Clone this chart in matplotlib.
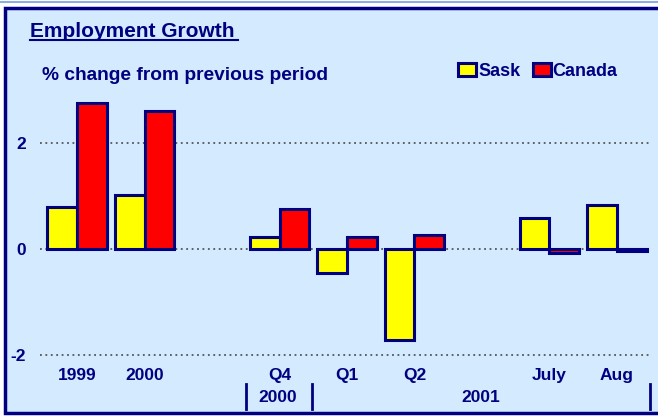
#! /usr/bin/env python3
# coding: utf-8

import matplotlib
matplotlib.use('Agg')
import matplotlib.pyplot as plt
from matplotlib.patches import Rectangle
from matplotlib.lines import Line2D
import numpy as np

NAVY = '#000080'
BG = '#D4EAFE'
YELLOW = '#FFFF00'
RED = '#FF0000'

periods = ['1999', '2000', 'Q4', 'Q1', 'Q2', 'July', 'Aug']
positions = [0, 1, 3, 4, 5, 7, 8]
sask = [0.79, 1.02, 0.23, -0.45, -1.72, 0.58, 0.83]
canada = [2.75, 2.60, 0.75, 0.23, 0.26, -0.08, -0.04]
groups = ['2000', '2001']

plt.rcParams['font.family'] = ['Liberation Sans', 'DejaVu Sans']
plt.rcParams['font.weight'] = 'bold'

W, H = 658, 416
fig = plt.figure(figsize=(W / 100, H / 100), dpi=100, facecolor='white')


def fx(px):
    return px / W


def fy(py):
    return 1 - py / H


# panel background and frame
fig.add_artist(Line2D([0, 1], [fy(2), fy(2)], color='#8FAEE0', lw=1.5))
fig.add_artist(Rectangle((fx(5), fy(413)), fx(700) - fx(5), fy(8) - fy(413),
                         facecolor=BG, edgecolor=NAVY, lw=2.5,
                         transform=fig.transFigure, zorder=0))

ax = fig.add_axes([fx(40), fy(360), fx(652) - fx(40), fy(90) - fy(360)])
ax.set_facecolor('none')
for s in ax.spines.values():
    s.set_visible(False)

x = np.array(positions, dtype=float)
w = 0.44
dx, dy = 0.022, -0.025

# shadows
ax.bar(x - w / 2 + dx, np.array(sask), w, bottom=dy, color=YELLOW, zorder=2)
ax.bar(x + w / 2 + dx, np.array(canada), w, bottom=dy, color=RED, zorder=2)
b1 = ax.bar(x - w / 2, sask, w, color=YELLOW, edgecolor=NAVY, lw=2.2,
            zorder=3, label='Sask')
b2 = ax.bar(x + w / 2, canada, w, color=RED, edgecolor=NAVY, lw=2.2,
            zorder=3, label='Canada')

for yv in [-2, 0, 2]:
    ax.axhline(yv, color='#555555', lw=1.3, ls=(0, (1, 2)), zorder=1)

ax.set_xlim(-0.55, 8.52)
ax.set_ylim(-2.1, 3.0)
ax.set_yticks([-2, 0, 2])
ax.set_yticklabels(['-2', '0', '2'])
ax.set_xticks(x)
ax.set_xticklabels(periods)
ax.tick_params(length=0, labelsize=12.5, labelcolor=NAVY)
ax.tick_params(axis='y', pad=10)
ax.tick_params(axis='x', pad=6)

# group labels below the axis
fig.text(fx(278), fy(397), groups[0], ha='center', va='center',
         color=NAVY, fontsize=12.5, fontweight='bold')
fig.text(fx(481), fy(397), groups[1], ha='center', va='center',
         color=NAVY, fontsize=12.5, fontweight='bold')
for px in [246, 312, 650]:
    fig.add_artist(Line2D([fx(px), fx(px)], [fy(384), fy(409)],
                          color=NAVY, lw=2))

# titles
fig.text(fx(30), fy(37), 'Employment Growth', ha='left', va='baseline',
         color=NAVY, fontsize=15, fontweight='bold')
fig.add_artist(Line2D([fx(30), fx(238)], [fy(40), fy(40)], color=NAVY, lw=1.5))
fig.text(fx(42), fy(80), '% change from previous period', ha='left',
         va='baseline', color=NAVY, fontsize=13.8, fontweight='bold')

fig.legend(handles=[b1, b2], loc='center left',
           bbox_to_anchor=(fx(451), fy(71)), ncol=2, frameon=False,
           fontsize=13, handlelength=1.0, handleheight=0.75,
           handletextpad=0.1, columnspacing=0.7, labelcolor=NAVY,
           borderaxespad=0)

fig.savefig('out.png', dpi=100, facecolor='white')
